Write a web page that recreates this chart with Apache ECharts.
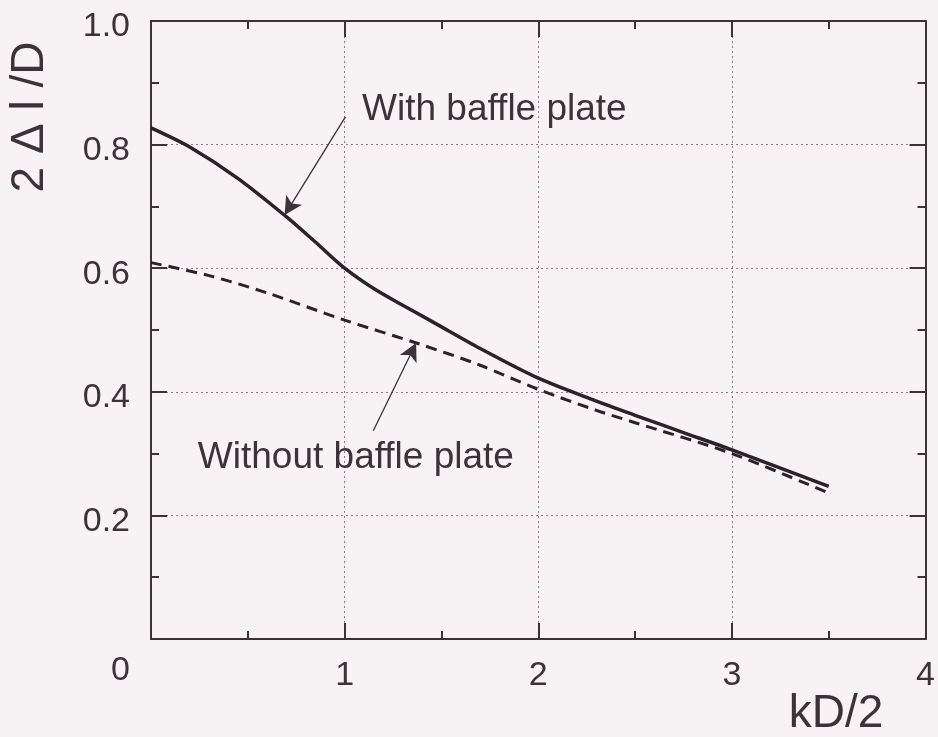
<!DOCTYPE html>
<html>
<head>
<meta charset="utf-8">
<script src="https://cdn.jsdelivr.net/npm/echarts@6/dist/echarts.min.js"></script>
<style>
  html, body { margin: 0; padding: 0; background: #f7f3f5; }
  #chart { width: 938px; height: 737px; }
</style>
</head>
<body>
<div id="chart"></div>
<script>
// ---- data ----
const withX   = [0, 0.2, 0.45, 0.7, 0.85, 1.0, 1.15, 1.3, 1.45, 1.7, 2.0, 2.3, 2.5, 2.75, 3.0, 3.5];
const withY   = [0.827, 0.796, 0.745, 0.683, 0.642, 0.600, 0.567, 0.540, 0.514, 0.470, 0.422, 0.385, 0.362, 0.334, 0.306, 0.247];
const withoutX = [0, 0.3, 0.6, 1.0, 1.37, 1.7, 2.0, 2.3, 2.5, 3.0, 3.5];
const withoutY = [0.609, 0.588, 0.560, 0.516, 0.479, 0.443, 0.404, 0.370, 0.350, 0.300, 0.236];
const xTicks = [0, 1, 2, 3, 4];
const yTicks = [0, 0.2, 0.4, 0.6, 0.8, 1.0];
const labelWith = 'With baffle plate';
const labelWithout = 'Without baffle plate';
const xTitle = 'kD/2';
const yTitle = '2 Δ l /D';
// annotation anchors (data coordinates)
const arrowWith = [[1.004, 0.845], [0.69, 0.686]];
const arrowWithout = [[1.148, 0.337], [1.369, 0.479]];
const textWith = [1.09, 0.857];
const textWithout = [0.242, 0.293];

const FONT = 'Liberation Sans, Arial, Helvetica, sans-serif';
const INK = '#3a3338';
const GRID = '#8e7d8c';

const chart = echarts.init(document.getElementById('chart'), null, { renderer: 'canvas' });

function pairs(xs, ys) { return xs.map((x, i) => [x, ys[i]]); }

const tickCommon = {
  axisTick: { show: true, inside: true, length: 16, lineStyle: { color: INK, width: 2 } },
  minorTick: { show: true, splitNumber: 2, length: 8, lineStyle: { color: INK, width: 2 } },
  axisLine: { show: true, onZero: false, lineStyle: { color: INK, width: 2 } }
};

const option = {
  backgroundColor: '#f7f3f5',
  animation: false,
  grid: { left: 151, right: 10, top: 21, bottom: 98, containLabel: false },
  xAxis: [
    Object.assign({
      type: 'value', min: xTicks[0], max: xTicks[xTicks.length - 1], interval: 1, position: 'bottom',
      axisLabel: {
        show: true, margin: 20, fontSize: 34, fontFamily: FONT, color: INK,
        formatter: v => (v === 0 ? '' : String(v))
      },
      splitLine: { show: true, lineStyle: { color: GRID, width: 1, type: [2, 3] } }
    }, tickCommon),
    Object.assign({
      type: 'value', min: xTicks[0], max: xTicks[xTicks.length - 1], interval: 1, position: 'top',
      axisLabel: { show: false }, splitLine: { show: false }
    }, tickCommon)
  ],
  yAxis: [
    Object.assign({
      type: 'value', min: yTicks[0], max: yTicks[yTicks.length - 1], interval: 0.2, position: 'left',
      axisLabel: {
        show: true, margin: 21, fontSize: 34, fontFamily: FONT, color: INK, padding: [12, 0, 0, 0],
        formatter: v => (v === 0 ? '{z|0}' : v.toFixed(1)),
        rich: { z: { fontSize: 34, fontFamily: FONT, color: INK, padding: [52, 0, 0, 0] } }
      },
      splitLine: { show: true, lineStyle: { color: GRID, width: 1, type: [2, 3] } }
    }, tickCommon),
    Object.assign({
      type: 'value', min: yTicks[0], max: yTicks[yTicks.length - 1], interval: 0.2, position: 'right',
      axisLabel: { show: false }, splitLine: { show: false }
    }, tickCommon)
  ],
  series: [
    {
      name: labelWith, type: 'line', xAxisIndex: 0, yAxisIndex: 0,
      data: pairs(withX, withY), showSymbol: false, smooth: 0.3,
      lineStyle: { color: '#2b2328', width: 3.5 },
      silent: true,
      markLine: {
        silent: true, symbol: ['none', 'arrow'], symbolSize: [14, 18],
        label: { show: false },
        lineStyle: { color: INK, width: 1.3, type: 'solid' },
        data: [[{ coord: arrowWith[0] }, { coord: arrowWith[1] }]]
      },
      markPoint: {
        silent: true, symbol: 'circle', symbolSize: 0,
        label: {
          show: true, position: 'right', distance: 0, fontSize: 37, fontFamily: FONT, color: INK,
          formatter: p => p.name
        },
        data: [{ name: labelWith, coord: textWith }]
      }
    },
    {
      name: labelWithout, type: 'line', xAxisIndex: 0, yAxisIndex: 0,
      data: pairs(withoutX, withoutY), showSymbol: false, smooth: 0.3,
      lineStyle: { color: '#2b2328', width: 3, type: [11, 7] },
      silent: true,
      markLine: {
        silent: true, symbol: ['none', 'arrow'], symbolSize: [14, 18],
        label: { show: false },
        lineStyle: { color: INK, width: 1.3, type: 'solid' },
        data: [[{ coord: arrowWithout[0] }, { coord: arrowWithout[1] }]]
      },
      markPoint: {
        silent: true, symbol: 'circle', symbolSize: 0,
        label: {
          show: true, position: 'right', distance: 0, fontSize: 37, fontFamily: FONT, color: INK,
          formatter: p => p.name
        },
        data: [{ name: labelWithout, coord: textWithout }]
      }
    }
  ],
  graphic: [
    {
      type: 'text', x: 836, y: 714,
      style: { text: xTitle, fontSize: 46, fontFamily: FONT, fill: INK, textAlign: 'center', textVerticalAlign: 'middle' }
    },
    {
      type: 'text', x: 30, y: 117, rotation: Math.PI / 2,
      style: { text: yTitle, fontSize: 46, fontFamily: FONT, fill: INK, textAlign: 'center', textVerticalAlign: 'middle' }
    }
  ]
};

chart.setOption(option);
</script>
</body>
</html>
